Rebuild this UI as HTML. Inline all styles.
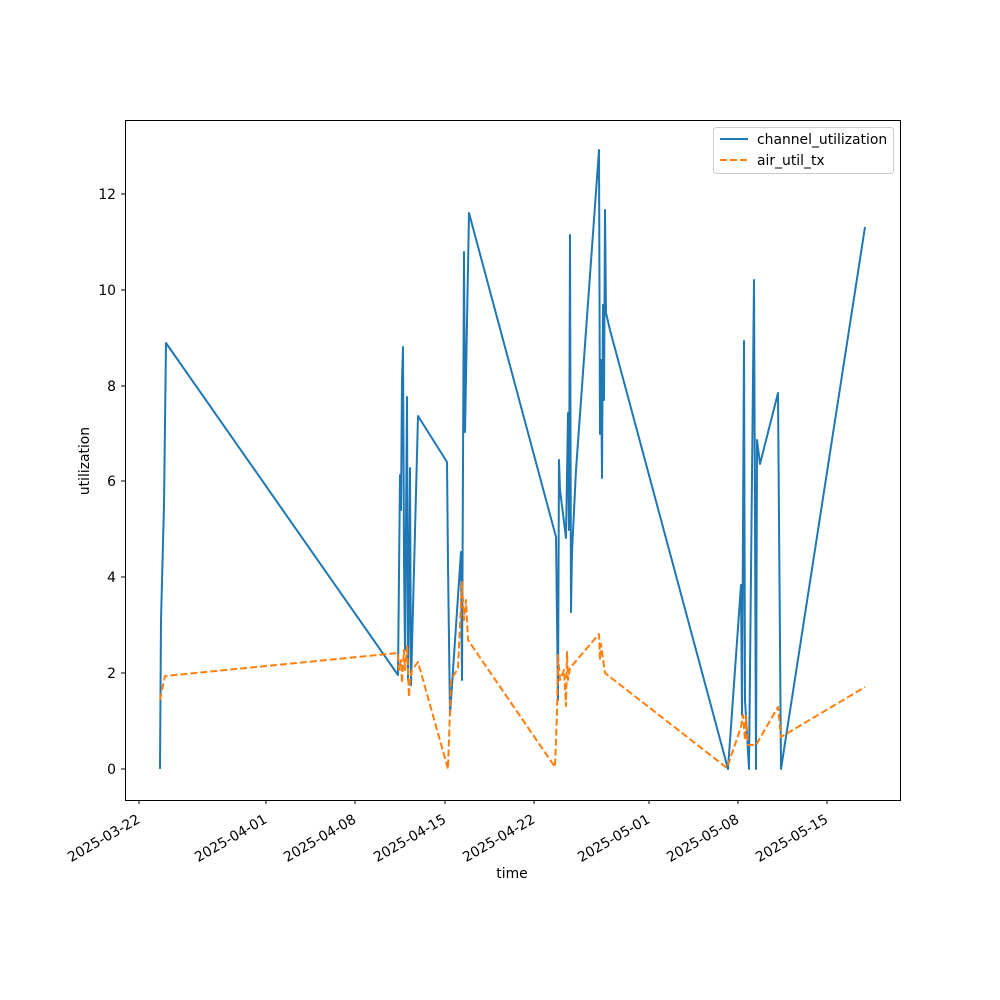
<!DOCTYPE html>
<html><head><meta charset="utf-8"><style>body{margin:0;background:#fff}svg{display:block}text{font-family:"DejaVu Sans","Liberation Sans",sans-serif;font-size:13.9px;fill:#000}</style></head><body>
<svg width="1000" height="1000" viewBox="0 0 1000 1000">
<rect x="125.5" y="120.5" width="775" height="680" fill="none" stroke="#000" stroke-width="1"/>
<g stroke="#000">
<line x1="125" y1="769" x2="121" y2="769"/><line x1="125" y1="673" x2="121" y2="673"/><line x1="125" y1="577" x2="121" y2="577"/><line x1="125" y1="481" x2="121" y2="481"/><line x1="125" y1="386" x2="121" y2="386"/><line x1="125" y1="290" x2="121" y2="290"/><line x1="125" y1="194" x2="121" y2="194"/>
<line x1="139" y1="800" x2="139" y2="804"/><line x1="266" y1="800" x2="266" y2="804"/><line x1="355" y1="800" x2="355" y2="804"/><line x1="445" y1="800" x2="445" y2="804"/><line x1="534" y1="800" x2="534" y2="804"/><line x1="649" y1="800" x2="649" y2="804"/><line x1="738" y1="800" x2="738" y2="804"/><line x1="827" y1="800" x2="827" y2="804"/>
</g>
<g text-anchor="end">
<text x="116" y="774">0</text><text x="116" y="678">2</text><text x="116" y="582">4</text><text x="116" y="486">6</text><text x="116" y="391">8</text><text x="116" y="295">10</text><text x="116" y="199">12</text>
<text transform="translate(141,822) rotate(-30)">2025-03-22</text>
<text transform="translate(268,822) rotate(-30)">2025-04-01</text>
<text transform="translate(357,822) rotate(-30)">2025-04-08</text>
<text transform="translate(447,822) rotate(-30)">2025-04-15</text>
<text transform="translate(536,822) rotate(-30)">2025-04-22</text>
<text transform="translate(651,822) rotate(-30)">2025-05-01</text>
<text transform="translate(740,822) rotate(-30)">2025-05-08</text>
<text transform="translate(829,822) rotate(-30)">2025-05-15</text>
</g>
<text x="512" y="878" text-anchor="middle">time</text>
<text transform="translate(89,461) rotate(-90)" text-anchor="middle">utilization</text>
<polyline fill="none" stroke="#1f77b4" stroke-width="2" stroke-linejoin="round" points="160,769 161,620 164,505 166,343 398,675 400,475 401,510 402,380 403,347 404,560 405,650 406,520 407,397 408,680 409,600 410,468 411,685 418,416 447,462 448,565 450,715 461,552 462,680 464,252 465,432 469,213 556,537 558,700 559,460 560,490 566,538 568,413 569,530 570,235 571,612 572,552 576,470 599,150 600,434 601,360 602,478 603,305 604,400 605,210 606,313 610,330 728,769 741,585 742,715 744,341 745,700 749,769 754,280 756,769 757,440 760,464 778,393 781,769 865,227"/>
<polyline fill="none" stroke="#ff7f0e" stroke-width="2" stroke-dasharray="7,3" stroke-linejoin="round" points="160,700 162,690 165,676 398,653 399,670 401,660 402,683 404,650 405,670 406,660 407,645 409,697 410,680 412,670 418,662 448,769 451,680 458,668 462,582 464,620 466,600 468,640 555,767 557,713 558,655 560,680 564,670 566,706 567,652 568,680 570,668 599,634 600,660 601,644 605,673 727,768 741,727 743,715 745,740 746,716 748,745 756,745 778,707 781,737 865,687"/>
<rect x="713.5" y="127.5" width="180" height="46" rx="3" fill="#fff" fill-opacity="0.8" stroke="#ccc"/>
<line x1="720" y1="139" x2="748" y2="139" stroke="#1f77b4" stroke-width="2"/>
<text x="757" y="144">channel_utilization</text>
<line x1="720" y1="160" x2="748" y2="160" stroke="#ff7f0e" stroke-width="2" stroke-dasharray="7,3"/>
<text x="757" y="165">air_util_tx</text>
</svg>
</body></html>
